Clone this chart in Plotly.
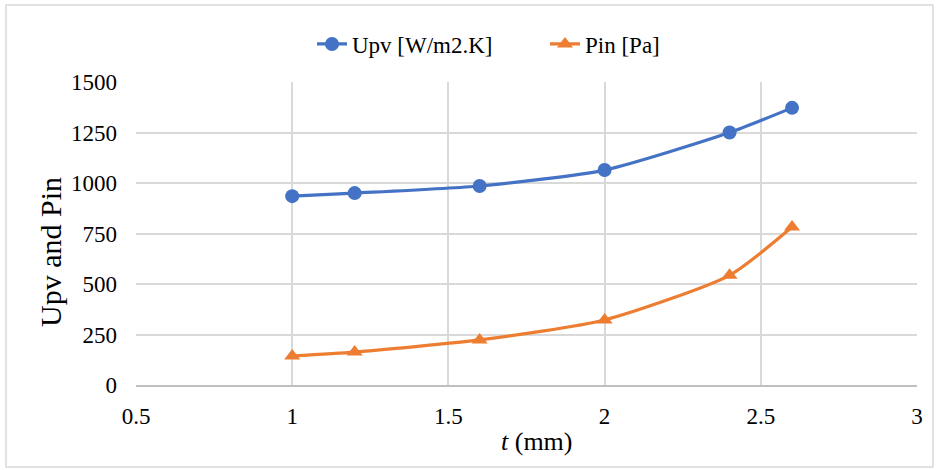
import plotly.graph_objects as go

t_mm = [1.0, 1.2, 1.6, 2.0, 2.4, 2.6]
upv = [935, 950, 985, 1064, 1250, 1372]
pin = [144, 163, 223, 322, 543, 782]

x_ticks = [0.5, 1, 1.5, 2, 2.5, 3]
x_tick_text = ["0.5", "1", "1.5", "2", "2.5", "3"]
y_ticks = [0, 250, 500, 750, 1000, 1250, 1500]

font = "Liberation Serif, Times New Roman, serif"

# plot area in pixels
L, T, W, H = 136, 82, 781, 303

fig = go.Figure()
fig.add_trace(go.Scatter(
    x=t_mm, y=upv, name="Upv [W/m2.K]", mode="lines+markers",
    line=dict(color="#4472C4", width=3.2, shape="spline", smoothing=0.6),
    marker=dict(symbol="circle", size=14, color="#4472C4"),
))
fig.add_trace(go.Scatter(
    x=t_mm, y=pin, name="Pin [Pa]", mode="lines+markers",
    line=dict(color="#ED7D31", width=3.2, shape="spline", smoothing=0.6),
    marker=dict(symbol="triangle-up", size=14, color="#ED7D31"),
))

fig.update_layout(
    width=938, height=470,
    margin=dict(l=L, r=938 - L - W, t=T, b=470 - T - H, autoexpand=False),
    paper_bgcolor="white", plot_bgcolor="white",
    font=dict(family=font, size=23, color="black"),
    legend=dict(orientation="h", x=(312 - L) / W, xref="paper", xanchor="left",
                y=1 - 44 / 470, yref="container", yanchor="middle",
                font=dict(family=font, size=23), entrywidth=188),
    showlegend=True,
    shapes=[dict(type="rect", xref="paper", yref="paper",
                 x0=(6 - L) / W, x1=(933 - L) / W,
                 y0=(T + H - 467) / H, y1=(T + H - 5) / H,
                 line=dict(color="#D9D9D9", width=1.5), layer="below")],
    annotations=[
        dict(text="Upv and Pin", textangle=-90, showarrow=False,
             xref="paper", yref="paper", x=(50 - L) / W, y=(T + H - 252) / H,
             xanchor="center", yanchor="middle", font=dict(size=30, family=font)),
        dict(text="<i>t</i> (mm)", showarrow=False,
             xref="paper", yref="paper", x=(537 - L) / W, y=(T + H - 441) / H,
             xanchor="center", yanchor="middle", font=dict(size=26, family=font)),
    ],
)
fig.update_xaxes(
    range=[0.5, 3], tickvals=x_ticks, ticktext=x_tick_text,
    showgrid=True, gridcolor="#D9D9D9", gridwidth=1.5,
    showline=True, linecolor="#BFBFBF", linewidth=1.5, zeroline=False,
    ticks="", tickfont=dict(size=23, family=font), ticklabelstandoff=10,
    automargin=False,
)
fig.update_yaxes(
    range=[0, 1500], tickvals=y_ticks,
    showgrid=True, gridcolor="#D9D9D9", gridwidth=1.5,
    zeroline=False, showline=False, ticks="",
    tickfont=dict(size=23, family=font), ticklabelstandoff=18,
    automargin=False,
)

fig.write_html("out.html", config={"displayModeBar": False},
               post_script="document.body.style.margin='0';")
